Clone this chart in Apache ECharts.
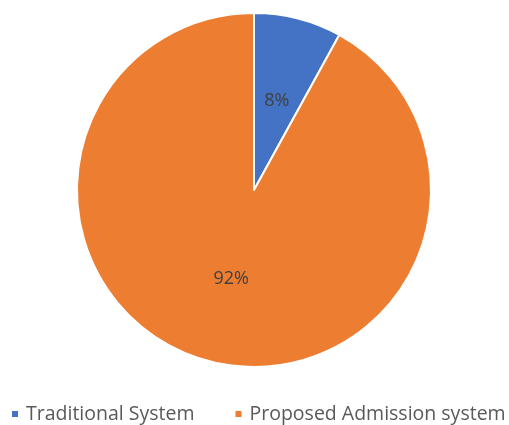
<!DOCTYPE html>
<html><head><meta charset="utf-8">
<script src="https://cdn.jsdelivr.net/npm/echarts@6/dist/echarts.min.js"></script>
<style>html,body{margin:0;padding:0;background:#fff}#c{width:509px;height:425px}</style>
</head><body><div id="c"></div>
<script>
const categories = ["Traditional System", "Proposed Admission system"];
const values = [8, 92];
const colors = ["#4472C4", "#ED7D31"];

const chart = echarts.init(document.getElementById('c'), null, {renderer: 'canvas'});
chart.setOption({
  animation: false,
  color: colors,
  legend: {
    top: 404,
    left: 10,
    width: 600,
    padding: 0,
    itemWidth: 8,
    itemHeight: 8,
    itemGap: 39,
    icon: 'rect',
    textStyle: {fontFamily: 'Open Sans', fontSize: 19.5, color: '#595959', padding: [0, 0, 0, 2]},
    data: categories
  },
  series: [{
    type: 'pie',
    center: [254, 190],
    radius: [0, 177],
    startAngle: 90,
    clockwise: true,
    itemStyle: {borderColor: '#fff', borderWidth: 2},
    label: {
      position: 'inside',
      formatter: p => p.value + '%',
      fontFamily: 'Open Sans',
      fontSize: 18,
      color: '#404040'
    },
    labelLine: {show: false},
    data: categories.map((c, i) => ({name: c, value: values[i]}))
  }]
});
</script></body></html>
